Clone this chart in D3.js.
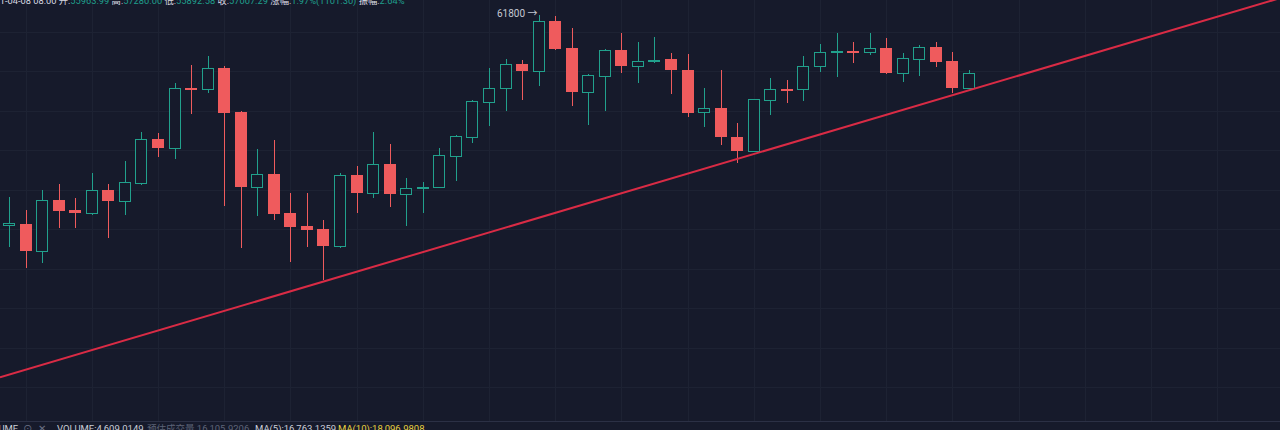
<!DOCTYPE html>
<html>
<head>
<meta charset="utf-8">
<script src="https://cdn.jsdelivr.net/npm/d3@7/dist/d3.min.js"></script>
<style>
html,body{margin:0;padding:0;background:#161a2b;overflow:hidden;}
svg{display:block;}
text{font-family:Roboto,"Noto Sans CJK SC",sans-serif;}
</style>
</head>
<body>
<svg id="chart" width="1280" height="430"></svg>
<script>
// ---- data (BTC/USDT daily) ----
const dates = [
 "2021-02-09","2021-02-10","2021-02-11","2021-02-12","2021-02-13","2021-02-14","2021-02-15","2021-02-16","2021-02-17","2021-02-18",
 "2021-02-19","2021-02-20","2021-02-21","2021-02-22","2021-02-23","2021-02-24","2021-02-25","2021-02-26","2021-02-27","2021-02-28",
 "2021-03-01","2021-03-02","2021-03-03","2021-03-04","2021-03-05","2021-03-06","2021-03-07","2021-03-08","2021-03-09","2021-03-10",
 "2021-03-11","2021-03-12","2021-03-13","2021-03-14","2021-03-15","2021-03-16","2021-03-17","2021-03-18","2021-03-19","2021-03-20",
 "2021-03-21","2021-03-22","2021-03-23","2021-03-24","2021-03-25","2021-03-26","2021-03-27","2021-03-28","2021-03-29","2021-03-30",
 "2021-03-31","2021-04-01","2021-04-02","2021-04-03","2021-04-04","2021-04-05","2021-04-06","2021-04-07","2021-04-08"
];
const open = [
 46900,46970,45080,48680,47970,47730,49390,48610,49900,53000,
 52390,56620,56570,58060,54940,49620,50500,47730,46830,46620,
 45410,50450,49150,51230,49100,49530,49620,51800,53170,55650,
 56600,58320,57850,61370,59440,56320,57490,59320,58200,58570,
 58680,57900,54900,55180,53170,52150,55770,56570,56530,58200,
 59210,59270,59200,59440,57660,58680,59550,58540,56640
];
const high = [
 48910,47970,49390,49790,48800,50570,49790,51460,53520,53410,
 56950,58250,58890,58180,55010,52270,52930,49150,49150,47260,
 50610,51110,53520,52650,50260,49970,52340,53300,55750,58020,
 58660,58610,61800,61750,60860,57600,59380,60500,59860,60260,
 59080,59010,56600,57900,54120,55860,57310,57190,58890,59740,
 60500,59910,60500,60150,59080,59670,59910,59200,57900
];
const low = [
 45360,43830,44230,46670,46670,47610,45960,47610,49740,51750,
 51580,54780,56250,48270,45250,47560,47260,44300,45360,43000,
 45250,47730,48800,48160,46850,47730,49620,50050,52700,53930,
 55010,55770,56760,59300,55340,54000,54990,57660,56950,58420,
 56200,54590,53880,52580,51320,52100,54710,55540,55720,57740,
 57420,58420,58960,57600,57070,57470,58130,56290,56600
];
const close = [
 47040,45080,48680,47920,47730,49390,48580,49930,52980,52390,
 56640,56550,58020,54870,49620,50500,47680,46780,46550,45430,
 50450,49150,51230,49100,49510,49600,51870,53220,55700,56600,
 58300,57850,61370,59390,56320,57540,59320,58200,58560,58610,
 57900,54870,55180,53120,52150,55820,56530,56530,58200,59200,
 59250,59220,59440,57660,58730,59550,58490,56640,57710
];
// price levels of the horizontal grid lines
const gridPrices = [60600,57800,55000,52200,49400,46600,43800,41000,38200,35400];
// candle slots where the vertical grid lines sit (they run past the last candle)
const gridSlots = [1,5,9,13,17,21,25,29,33,37,41,45,49,53,57,61,65,69,73];
// trend line drawn through two candle lows
const trendPoints = [{slot:19, price:42890},{slot:57, price:56110}];
// marked high
const highMark = {slot:32, price:61800, label:"61800"};
// header / footer texts
const headerParts = [
 {t:"2021-04-08 08:00 ", c:"#d6d8e0"},
 {t:"开:", c:"#d6d8e0"},{t:"55963.99 ", c:"#1f9f8c"},
 {t:"高:", c:"#d6d8e0"},{t:"57280.00 ", c:"#1f9f8c"},
 {t:"低:", c:"#d6d8e0"},{t:"55892.58 ", c:"#1f9f8c"},
 {t:"收:", c:"#d6d8e0"},{t:"57007.29 ", c:"#1f9f8c"},
 {t:"涨幅:", c:"#d6d8e0"},{t:"1.97%(1101.30) ", c:"#1f9f8c"},
 {t:"振幅:", c:"#d6d8e0"},{t:"2.64%", c:"#1f9f8c"}
];
const footerParts = [
 {t:"VOLUME", c:"#c9ccd6", x:-19},
 {t:"⊙", c:"#6b7185", x:23},
 {t:"✕", c:"#6b7185", x:38},
 {t:"VOLUME:4,609.0149", c:"#c9ccd6", x:57},
 {t:"预估成交量 16,105.9206", c:"#5d6377", x:147},
 {t:"MA(5):16,763.1359", c:"#c9ccd6", x:255},
 {t:"MA(10):18,096.9808", c:"#e6cf3f", x:338}
];

// ---- drawing ----
const W = 1280, H = 430;
const svg = d3.select("#chart");
const BG = "#161a2b", UP = "#21a08c", DOWN = "#ef5b5d";

const x = d3.scaleLinear().domain([0, dates.length - 1]).range([9, 968.9]);
const y = d3.scaleLinear().domain([43000, 61800]).range([280, 15]);
const step = x(1) - x(0);
const bodyW = Math.round(step * 0.7);

svg.append("rect").attr("width", W).attr("height", H).attr("fill", BG);

// grid
const grid = svg.append("g").attr("shape-rendering", "crispEdges");
grid.selectAll("line.h").data(gridPrices).join("line")
  .attr("x1", 0).attr("x2", W)
  .attr("y1", d => Math.round(y(d)) + 0.5).attr("y2", d => Math.round(y(d)) + 0.5)
  .attr("stroke", "#1d2233").attr("stroke-width", 1);
grid.selectAll("line.v").data(gridSlots).join("line")
  .attr("y1", 0).attr("y2", 422)
  .attr("x1", d => Math.round(x(d)) + 0.5).attr("x2", d => Math.round(x(d)) + 0.5)
  .attr("stroke", "#1d2233").attr("stroke-width", 1);
// pane separator
svg.append("line").attr("x1", 0).attr("x2", W).attr("y1", 421.5).attr("y2", 421.5)
  .attr("stroke", "#2b3045").attr("stroke-width", 1);

// candles
const candles = dates.map((d, i) => ({d, i, o: open[i], h: high[i], l: low[i], c: close[i]}));
const cg = svg.append("g").attr("shape-rendering", "crispEdges");
const g = cg.selectAll("g.candle").data(candles).join("g");
g.append("line")
  .attr("x1", d => Math.round(x(d.i)) + 0.5).attr("x2", d => Math.round(x(d.i)) + 0.5)
  .attr("y1", d => y(d.h)).attr("y2", d => y(d.l))
  .attr("stroke", d => d.c >= d.o ? UP : DOWN).attr("stroke-width", 1);
g.append("rect")
  .attr("x", d => Math.round(x(d.i)) - Math.floor(bodyW / 2) + (d.c >= d.o ? 0.5 : 0))
  .attr("width", d => d.c >= d.o ? bodyW - 1 : bodyW)
  .attr("y", d => {
    const top = Math.round(y(Math.max(d.o, d.c)));
    return d.c >= d.o ? top + 0.5 : top;
  })
  .attr("height", d => {
    const hgt = Math.abs(Math.round(y(d.o)) - Math.round(y(d.c)));
    return d.c >= d.o ? Math.max(hgt, 1) : Math.max(hgt, 2);
  })
  .attr("fill", d => d.c >= d.o ? BG : DOWN)
  .attr("stroke", d => d.c >= d.o ? UP : "none")
  .attr("stroke-width", 1);

// trend line, extended across the whole plot
const [p0, p1] = trendPoints;
const slope = (p1.price - p0.price) / (p1.slot - p0.slot);
const s0 = x.invert(0), s1 = x.invert(W);
svg.append("line")
  .attr("x1", 0).attr("y1", y(p0.price + slope * (s0 - p0.slot)))
  .attr("x2", W).attr("y2", y(p0.price + slope * (s1 - p0.slot)))
  .attr("stroke", "#d92b45").attr("stroke-width", 2);

// high marker
svg.append("text")
  .attr("x", x(highMark.slot) - 1).attr("y", y(highMark.price) + 2)
  .attr("text-anchor", "end").attr("font-size", 10).attr("fill", "#c4c8d2")
  .text(highMark.label + " →");

// header (clipped at the top-left like the screenshot)
const header = svg.append("text").attr("x", -16).attr("y", 4).attr("font-size", 9.3);
header.selectAll("tspan").data(headerParts).join("tspan")
  .attr("fill", d => d.c).text(d => d.t.replace(/ $/, "\u00a0"));

// footer
svg.selectAll("text.foot").data(footerParts).join("text")
  .attr("class", "foot")
  .attr("x", d => d.x).attr("y", 432).attr("font-size", 9.5)
  .attr("fill", d => d.c).text(d => d.t);
</script>
</body>
</html>
